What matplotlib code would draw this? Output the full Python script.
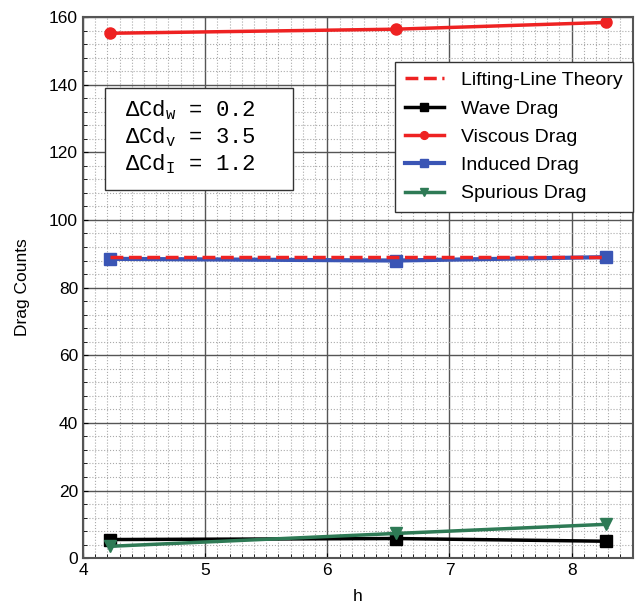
import matplotlib.pyplot as plt
from matplotlib.patches import Rectangle
from matplotlib.ticker import MultipleLocator

plt.rcParams['font.family'] = ['Liberation Sans', 'DejaVu Sans']
plt.rcParams['mathtext.fontset'] = 'custom'
plt.rcParams['mathtext.rm'] = 'Liberation Mono'
plt.rcParams['mathtext.it'] = 'Liberation Mono'

# data
h = [4.22, 6.56, 8.28]
lifting_line = [89.0, 89.0, 89.0]
wave = [5.5, 5.8, 5.0]
viscous = [155.2, 156.4, 158.4]
induced = [88.5, 88.0, 89.0]
spurious = [3.5, 7.3, 10.0]

box_lines = ['ΔCd$_w$ = 0.2', 'ΔCd$_v$ = 3.5', 'ΔCd$_I$ = 1.2']

fig = plt.figure(figsize=(6.43, 6.08), dpi=100)
ax = fig.add_axes([0.129, 0.082, 0.855, 0.89])

ax.plot(h, lifting_line, '--', color='#ee2222', lw=2.5, label='Lifting-Line Theory', zorder=4)
ax.plot(h, wave, '-s', color='black', lw=2.5, ms=8, label='Wave Drag')
ax.plot(h, viscous, '-o', color='#ee2222', lw=2.5, ms=8, label='Viscous Drag')
ax.plot(h, induced, '-s', color='#3a55b5', lw=3, ms=9, label='Induced Drag')
ax.plot(h, spurious, '-v', color='#2e7a55', lw=2.5, ms=8, label='Spurious Drag')

ax.set_xlim(4, 8.5)
ax.set_ylim(0, 160)
ax.xaxis.set_major_locator(MultipleLocator(1))
ax.xaxis.set_minor_locator(MultipleLocator(0.1))
ax.yaxis.set_major_locator(MultipleLocator(20))
ax.yaxis.set_minor_locator(MultipleLocator(4))
ax.grid(which='major', color='#555555', lw=1.0, ls='-')
ax.grid(which='minor', color='#aaaaaa', lw=0.8, ls=':')
ax.set_axisbelow(True)
ax.tick_params(which='both', direction='in', labelsize=12.5)
ax.tick_params(which='minor', length=3)
for s in ax.spines.values():
    s.set_color('#555555')
    s.set_linewidth(1.5)

ax.set_xlabel('h', fontsize=12.5, labelpad=8)
ax.set_ylabel('Drag Counts', fontsize=12.5, labelpad=14)

leg = ax.legend(loc='upper right', bbox_to_anchor=(1.0, 0.917), fontsize=14,
                fancybox=False, edgecolor='#333333', framealpha=1, handlelength=2.0,
                labelspacing=0.55, borderpad=0.5, handletextpad=0.9,
                markerscale=0.7, borderaxespad=0)
leg.get_frame().set_linewidth(1.0)

# text box
ax.add_patch(Rectangle((0.04, 0.68), 0.342, 0.189, transform=ax.transAxes,
                       fc='white', ec='#333333', lw=1.0, zorder=5))
ax.text(0.076, 0.85, '\n'.join(box_lines), transform=ax.transAxes, va='top', ha='left',
        family='Liberation Mono', fontsize=16, linespacing=1.2, zorder=6)

fig.savefig('out.png', dpi=100)
